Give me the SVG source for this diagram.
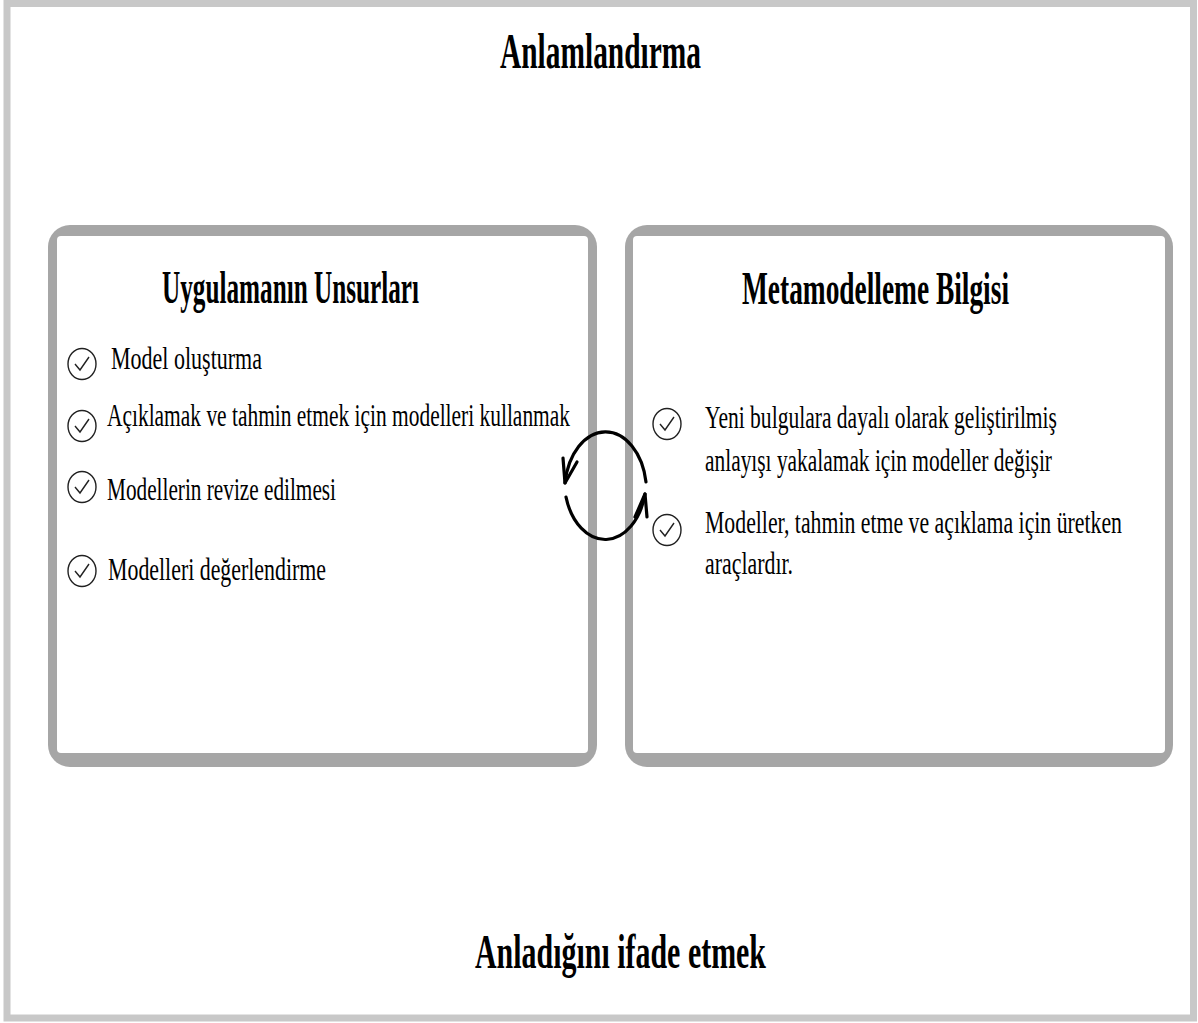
<svg xmlns="http://www.w3.org/2000/svg" width="1198" height="1023" viewBox="0 0 1198 1023">
<style>
.t{font-family:"Liberation Serif","Times New Roman",serif;fill:#000}
.h{font-weight:bold}
.it{font-size:31px}
.ck{fill:none;stroke:#222;stroke-width:1.4}
.cn{fill:none;stroke:#000;stroke-width:3.2;stroke-linecap:round;stroke-linejoin:round}
</style>
<defs>
<g id="chk">
<ellipse cx="0" cy="0" rx="14" ry="15.5" class="ck"/>
<path d="M-7,0 L-2,6 L7,-7" class="ck"/>
</g>
</defs>
<rect width="1198" height="1023" fill="#fff"/>
<rect x="7" y="3.5" width="1186.5" height="1014.5" fill="none" stroke="#c8c8c8" stroke-width="7"/>
<text class="t h" x="500" y="68" font-size="50" textLength="201" lengthAdjust="spacingAndGlyphs">Anlamlandırma</text>
<text class="t h" x="475" y="968" font-size="49" textLength="291" lengthAdjust="spacingAndGlyphs">Anladığını ifade etmek</text>
<g id="box-left">
<rect x="48" y="225" width="549" height="542" rx="22" fill="#a6a6a6"/>
<rect x="57" y="236" width="531" height="517" rx="4" fill="#fff"/>
<text class="t h" x="162" y="303" font-size="47" textLength="257" lengthAdjust="spacingAndGlyphs">Uygulamanın Unsurları</text>
<use href="#chk" x="82" y="364"/>
<text class="t it" x="111" y="369" textLength="151" lengthAdjust="spacingAndGlyphs">Model oluşturma</text>
<use href="#chk" x="82" y="426"/>
<text class="t it" x="107" y="426" textLength="463" lengthAdjust="spacingAndGlyphs">Açıklamak ve tahmin etmek için modelleri kullanmak</text>
<use href="#chk" x="82" y="487"/>
<text class="t it" x="107" y="500" textLength="229" lengthAdjust="spacingAndGlyphs">Modellerin revize edilmesi</text>
<use href="#chk" x="82" y="571"/>
<text class="t it" x="108" y="580" textLength="218" lengthAdjust="spacingAndGlyphs">Modelleri değerlendirme</text>
</g>
<g id="box-right">
<rect x="625" y="225" width="548" height="542" rx="22" fill="#a6a6a6"/>
<rect x="633" y="236" width="532" height="517" rx="4" fill="#fff"/>
<text class="t h" x="742" y="304" font-size="47" textLength="267" lengthAdjust="spacingAndGlyphs">Metamodelleme Bilgisi</text>
<use href="#chk" x="667" y="424"/>
<text class="t it" x="705" y="428" textLength="352" lengthAdjust="spacingAndGlyphs">Yeni bulgulara dayalı olarak geliştirilmiş</text>
<text class="t it" x="705" y="471" textLength="347" lengthAdjust="spacingAndGlyphs">anlayışı yakalamak için modeller değişir</text>
<use href="#chk" x="667" y="530"/>
<text class="t it" x="705" y="533" textLength="417" lengthAdjust="spacingAndGlyphs">Modeller, tahmin etme ve açıklama için üretken</text>
<text class="t it" x="705" y="574" textLength="88" lengthAdjust="spacingAndGlyphs">araçlardır.</text>
</g>
<g id="connectors">
<path class="cn" d="M646,482 A41,60 0 0 0 565,483"/>
<path class="cn" d="M563,458 L565,483 L577,462"/>
<path class="cn" d="M566,497 A41,60 0 0 0 645,494"/>
<path class="cn" d="M635,517 L645,494 L647,517"/>
</g>
</svg>
